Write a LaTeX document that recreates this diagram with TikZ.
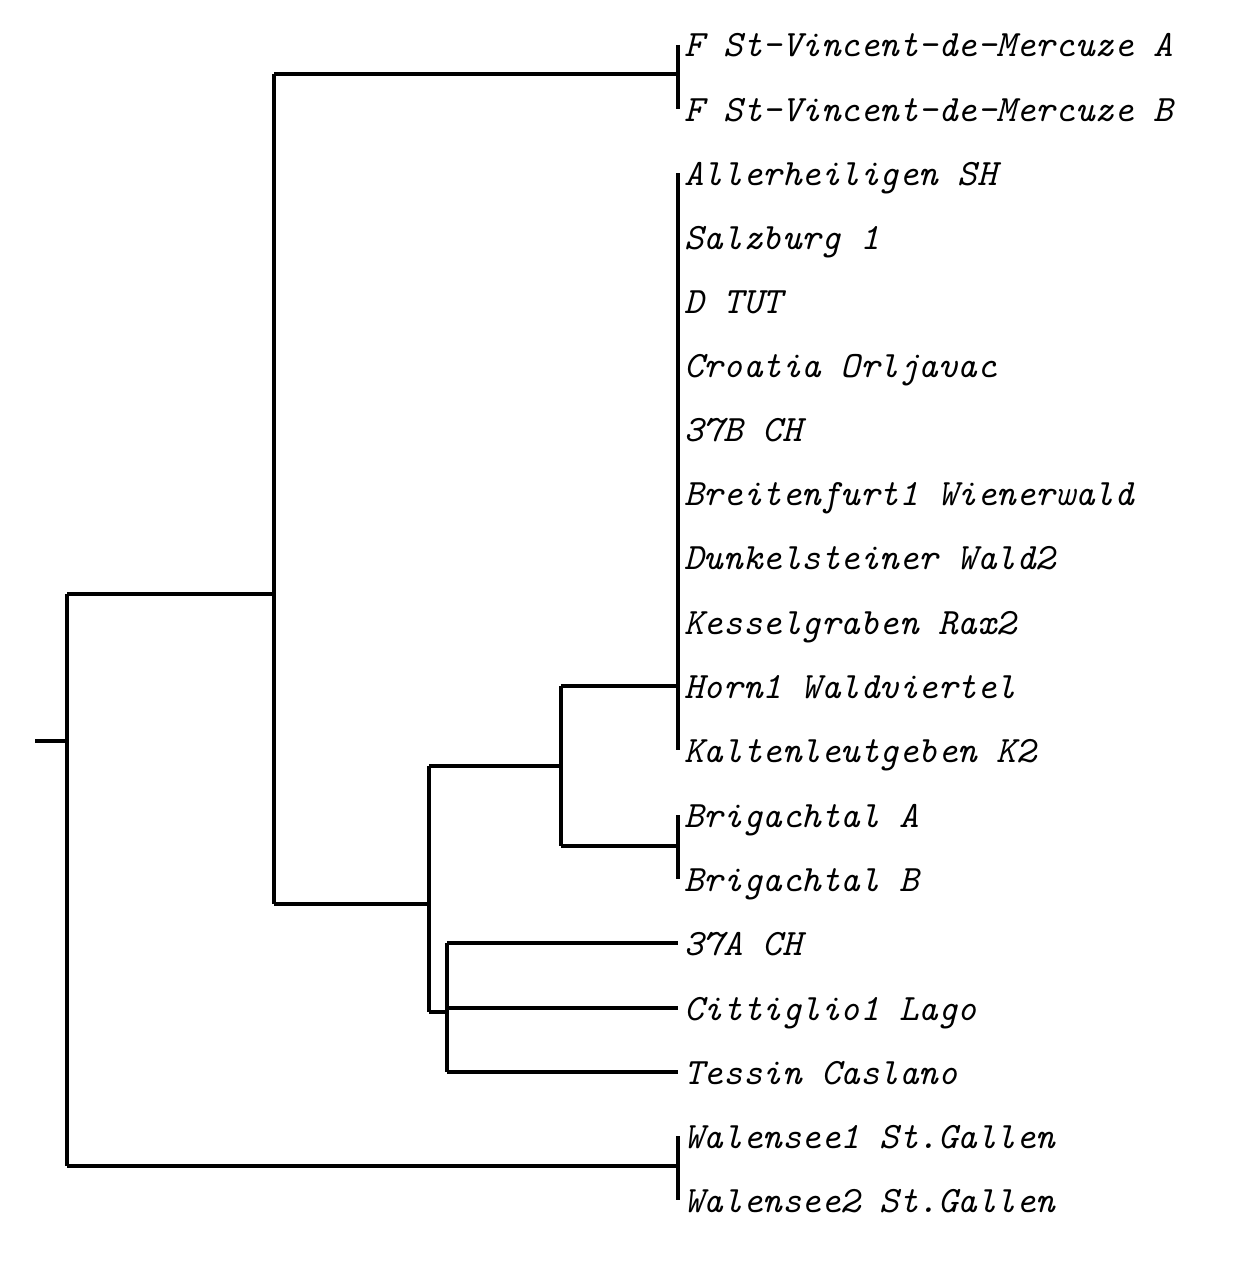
\documentclass[tikz,border=0pt]{standalone}
\usepackage{tikz}
\tikzstyle{leaf}=[anchor=base west,inner sep=0pt,font=\fontsize{18.6}{19}\selectfont\ttfamily\itshape]
\tikzstyle{branch}=[line width=1.6pt]
\begin{document}
\begin{tikzpicture}[x=0.5pt,y=-0.5pt]
        \useasboundingbox (0,0) rectangle (1238,1284);
        % leaves
        \foreach \name/\y/\txt in {l1/45/F St-Vincent-de-Mercuze A, l2/109/F St-Vincent-de-Mercuze B,
            l3/173/Allerheiligen SH, l4/237/Salzburg 1, l5/301/D TUT, l6/365/Croatia Orljavac,
            l7/429/37B CH, l8/493/Breitenfurt1 Wienerwald, l9/557/Dunkelsteiner Wald2,
            l10/622/Kesselgraben Rax2, l11/686/Horn1 Waldviertel, l12/750/Kaltenleutgeben K2,
            l13/815/Brigachtal A, l14/879/Brigachtal B, l15/943/37A CH, l16/1008/Cittiglio1 Lago,
            l17/1072/Tessin Caslano, l18/1136/Walensee1 St.Gallen, l19/1200/Walensee2 St.Gallen}
            \node[leaf] (\name) at (684,\y+12) {\txt};
        % internal nodes
        \coordinate (root) at (35,741);
        \coordinate (n0) at (67,741);
        \coordinate (n1) at (274,594);
        \coordinate (n2) at (429,904);
        \coordinate (n3) at (561,766);
        \coordinate (n4) at (447,1012);
        % tree
        \draw[branch] (root) -- (n0);
        \draw[branch] (67,594) -- (67,1166);
        \draw[branch] (67,594) -- (n1);
        \draw[branch] (274,74) -- (274,904);
        \draw[branch] (274,74) -- (678,74);
        \draw[branch] (678,45) -- (678,109);
        \draw[branch] (274,904) -- (n2);
        \draw[branch] (429,766) -- (429,1012);
        \draw[branch] (429,766) -- (n3);
        \draw[branch] (561,686) -- (561,846);
        \draw[branch] (561,686) -- (678,686);
        \draw[branch] (678,173) -- (678,750);
        \draw[branch] (561,846) -- (678,846);
        \draw[branch] (678,815) -- (678,879);
        \draw[branch] (429,1012) -- (n4);
        \draw[branch] (447,943) -- (447,1072);
        \foreach \y in {943,1008,1072}
            \draw[branch] (447,\y) -- (678,\y);
        \draw[branch] (67,1166) -- (678,1166);
        \draw[branch] (678,1136) -- (678,1200);
\end{tikzpicture}
\end{document}
